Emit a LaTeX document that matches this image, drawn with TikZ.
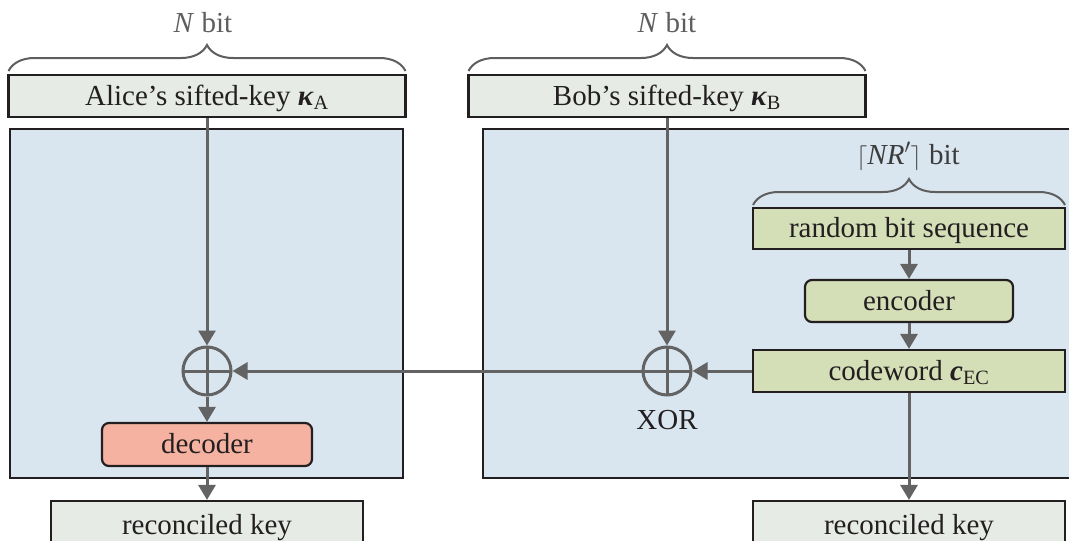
\documentclass[tikz,border=0pt]{standalone}
\usepackage{fontspec}
\setmainfont{Liberation Serif}
\usetikzlibrary{arrows.meta,decorations.pathreplacing,calc}
\definecolor{panelblue}{HTML}{D9E6F0}
\definecolor{keygray}{HTML}{E6ECE5}
\definecolor{bgreen}{HTML}{D5DFB7}
\definecolor{salmon}{HTML}{F5B2A0}
\definecolor{ink}{HTML}{231F20}
\definecolor{arrgray}{HTML}{636363}
\definecolor{bracegray}{HTML}{5E5E5E}
\definecolor{darklabel}{HTML}{3C3C3C}
\newcommand{\bvec}[1]{\textbf{\textit{#1}}}
\tikzset{
  every node/.style={font=\fontsize{29}{34}\selectfont, text=ink},
  panel/.style={fill=panelblue, draw=ink, line width=2.5pt},
  keybox/.style={rectangle, fill=keygray, draw=ink, line width=2.2pt, inner sep=0pt, text height=19pt, text depth=1pt},
  greenbox/.style={rectangle, fill=bgreen, draw=ink, line width=2.2pt, inner sep=0pt, text height=19pt, text depth=1pt},
  roundgreen/.style={greenbox, rounded corners=7pt},
  decbox/.style={rectangle, rounded corners=7pt, fill=salmon, draw=ink, line width=2.2pt, inner sep=0pt, text height=19pt, text depth=1pt},
  xorsym/.style={circle, draw=arrgray, line width=3pt, minimum size=48pt, inner sep=0pt,
    path picture={\draw[arrgray, line width=3pt] (path picture bounding box.north) -- (path picture bounding box.south) (path picture bounding box.west) -- (path picture bounding box.east);}},
  arr/.style={draw=arrgray, line width=3pt, -{Triangle[width=17pt,length=15pt]}},
  bracestyle/.style={draw=bracegray, line width=2pt, decorate, decoration={brace, amplitude=26pt, aspect=0.5}},
  graylabel/.style={text=bracegray, inner sep=0pt, text height=19pt, text depth=1pt}
}
\begin{document}
\begin{tikzpicture}[x=1pt,y=-1pt]
\useasboundingbox (0,0) rectangle (1069,541);
% panels
\draw[panel] (10,129) rectangle (403,478);
\draw[panel] (483,129) rectangle (1090,478);
% top key boxes
\node[keybox, minimum width=397pt, minimum height=42pt] (alice) at (207,96) {Alice’s sifted-key \bvec{κ}\textsubscript{A}};
\node[keybox, minimum width=397pt, minimum height=42pt] (bob) at (667,96) {Bob’s sifted-key \bvec{κ}\textsubscript{B}};
% braces
\coordinate (braceAl) at (8.5,71);
\coordinate (braceAr) at (405.5,71);
\coordinate (braceBl) at (468.5,71);
\coordinate (braceBr) at (865.5,71);
\draw[bracestyle] (braceAl) -- (braceAr);
\draw[bracestyle] (braceBl) -- (braceBr);
\node[graylabel] (nbitA) at (203,23) {\textit{N} bit};
\node[graylabel] (nbitB) at (667,23) {\textit{N} bit};
% Bob side chain
\node[greenbox, minimum width=312pt, minimum height=41pt] (random) at (909,228.5) {random bit sequence};
\node[roundgreen, minimum width=208pt, minimum height=42pt] (encoder) at (909,301) {encoder};
\node[greenbox, minimum width=312pt, minimum height=42pt] (codeword) at (909,371) {codeword \bvec{c}\textsubscript{EC}};
\coordinate (braceCl) at (753,205);
\coordinate (braceCr) at (1065,205);
\draw[bracestyle] (braceCl) -- (braceCr);
\node[graylabel, text=darklabel] (nrbit) at (908,155) {$\lceil\textit{NR}'\rceil$ bit};
% XORs
\node[xorsym] (xorA) at (207,371) {};
\node[xorsym] (xorB) at (667,371) {};
\node[inner sep=0pt, text height=19pt, text depth=1pt] (xorlabel) at (667,420) {XOR};
% decoder
\node[decbox, minimum width=210pt, minimum height=43pt] (decoder) at (207,444.5) {decoder};
% reconciled keys
\node[keybox, minimum width=312pt, minimum height=48pt] (reconA) at (207,525) {reconciled key};
\node[keybox, minimum width=312pt, minimum height=48pt] (reconB) at (909,525) {reconciled key};
% arrows
\draw[arr] (alice.south) -- (xorA.north);
\draw[arr] (bob.south) -- (xorB.north);
\draw[arr] (random.south) -- (encoder.north);
\draw[arr] (encoder.south) -- (codeword.north);
\draw[arr] (codeword.west) -- (xorB.east);
\draw[arr] (xorB.west) -- (xorA.east);
\draw[arr] (xorA.south) -- (decoder.north);
\draw[arr] (decoder.south) -- (reconA.north);
\draw[arr] (codeword.south) -- (reconB.north);
\end{tikzpicture}
\end{document}
